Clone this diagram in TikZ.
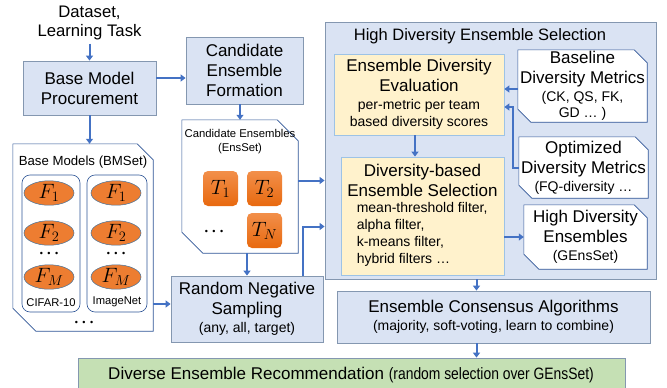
\documentclass[tikz,border=0pt]{standalone}
\usepackage{fontspec}
\setmainfont{Liberation Sans}
\newfontfamily\narrowfont{Liberation Sans}[FakeStretch=0.84]
\usetikzlibrary{arrows.meta,positioning,shapes.geometric}

\definecolor{flowblue}{HTML}{4472C4}
\definecolor{boxfill}{HTML}{DAE3F3}
\definecolor{boxline}{HTML}{8497B0}
\definecolor{yfill}{HTML}{FFF2CC}
\definecolor{yline}{HTML}{9DC3E6}
\definecolor{gfill}{HTML}{C5E0B4}
\definecolor{snipline}{HTML}{2F5597}
\definecolor{orange}{HTML}{ED7D31}
\definecolor{orangetop}{HTML}{F28F4A}
\definecolor{orangebot}{HTML}{E8690F}
\definecolor{ellline}{HTML}{41719C}

\newcommand{\mainfnt}{\fontsize{17}{20}\selectfont}
\newcommand{\subfnt}{\fontsize{14}{16.5}\selectfont}
\newcommand{\bulletdots}{\textbullet\hspace{4.5pt}\textbullet\hspace{4.5pt}\textbullet}
% white frame with two cut corners around a named node: #1 node, #2 NE cut, #3 SW cut
\newcommand{\snipframe}[3]{%
    \filldraw[draw=snipline, fill=white, line width=0.6pt]
        (#1.north west) -- ([xshift=-#2]#1.north east) -- ([yshift=-#2]#1.north east)
        -- (#1.south east) -- ([xshift=#3]#1.south west) -- ([yshift=#3]#1.south west) -- cycle;}

\begin{document}
\begin{tikzpicture}[x=1pt, y=-1pt,
    flow/.style={draw=flowblue, line width=2pt, -{Triangle[length=5pt,width=7pt]}},
    bluebox/.style={draw=boxline, fill=boxfill, line width=0.8pt, align=center,
        inner sep=0pt, font=\mainfnt},
    yelbox/.style={draw=yline, fill=yfill, line width=0.8pt, align=center,
        inner sep=0pt, font=\mainfnt},
    snipbox/.style={inner sep=0pt},
    sniptext/.style={align=center, inner sep=0pt, font=\mainfnt},
    group/.style={draw=snipline, fill=white, rounded corners=8pt, line width=0.6pt, inner sep=0pt},
    model/.style={ellipse, draw=ellline, fill=orange, line width=0.5pt,
        minimum width=50pt, minimum height=24pt, inner sep=0pt, font=\fontsize{20.74}{21}\selectfont},
    team/.style={rounded corners=5pt, top color=orangetop, bottom color=orangebot,
        minimum width=35pt, minimum height=35pt, inner sep=0pt, font=\fontsize{20.74}{21}\selectfont},
    dots/.style={font=\fontsize{9}{9}\selectfont, inner sep=0pt}
]
    \useasboundingbox (0,0) rectangle (667,388);

    % input and first stage
    \node[align=center, font=\fontsize{16.7}{19}\selectfont] (data) at (89.5,23) {Dataset,\\Learning Task};
    \node[bluebox, minimum width=133pt, minimum height=54pt] (bmp) at (89.5,88) {Base Model\\Procurement};
    \node[bluebox, minimum width=117pt, minimum height=67pt] (cef) at (244.5,70.5) {Candidate\\Ensemble\\Formation};

    % base model pool
    \node[snipbox, minimum width=140pt, minimum height=187pt] (bm) at (83,237.5) {};
    \snipframe{bm}{16pt}{23pt}
    \node[below=9pt of bm.north, font=\fontsize{13.2}{15}\selectfont] (bmlabel) {Base Models (BMSet)};
    \node[group, minimum width=58pt, minimum height=137pt] (cifar) at (51,243.5) {};
    \node[group, minimum width=60pt, minimum height=137pt] (imnet) at (117,243.5) {};
    \node[above=2pt of cifar.south, font=\fontsize{11.2}{12}\selectfont] {CIFAR-10};
    \node[above=2pt of imnet.south, font=\fontsize{11.2}{12}\selectfont] {ImageNet};
    \foreach \col/\cx in {c/49, i/116} {
        \node[model] (\col1) at (\cx,193) {$F_1$};
        \node[model] (\col2) at (\cx,233) {$F_2$};
        \node[model] (\col3) at (\cx,277) {$F_M$};
        \node[dots] at (\cx,254) {\bulletdots};
    }
    \node[dots] at (84,323) {\bulletdots};

    % candidate ensembles
    \node[snipbox, minimum width=116pt, minimum height=133pt] (ce) at (240,186.5) {};
    \snipframe{ce}{21pt}{21pt}
    \node[below=6pt of ce.north, align=center, font=\fontsize{11.3}{14}\selectfont] (celabel) {Candidate Ensembles\\(EnsSet)};
    \node[team] (t1) at (220.5,188.5) {$T_1$};
    \node[team] (t2) at (264.5,188.5) {$T_2$};
    \node[team] (tn) at (264.5,230.5) {$T_N$};
    \node[dots] at (214,232) {\bulletdots};

    \node[bluebox, minimum width=152pt, minimum height=66pt] (rns) at (247,309)
        {Random Negative\\Sampling\\[-2pt]{\subfnt (any, all, target)}};

    % high diversity ensemble selection
    \node[draw=boxline, fill=boxfill, line width=0.8pt, minimum width=331pt, minimum height=257pt] (hdes) at (490.5,150.5) {};
    \node[font=\fontsize{16.5}{20}\selectfont] (hdestitle) at (480,36) {High Diversity Ensemble Selection};
    \node[yelbox, minimum width=170pt, minimum height=81pt] (ede) at (419,94.5)
        {Ensemble Diversity\\Evaluation\\[-2pt]{\subfnt per-metric per team}\\[-3.5pt]{\subfnt based diversity scores}};
    \node[yelbox, minimum width=163pt, minimum height=118pt] (des) at (422.5,216) {};
    \node[below=4pt of des.north, align=center, font=\mainfnt] (destitle) {Diversity-based\\Ensemble Selection};
    \node[anchor=north west, align=left, inner sep=0pt, font=\fontsize{14}{16.7}\selectfont]
        (deslist) at ([xshift=16pt,yshift=-46pt]des.north west)
        {mean-threshold filter,\\alpha filter,\\k-means filter,\\hybrid filters \dots};

    \node[snipbox, minimum width=129pt, minimum height=72pt] (bdm) at (582.5,86) {};
    \snipframe{bdm}{13pt}{13pt}
    \node[sniptext] at (bdm) {Baseline\\Diversity Metrics\\[-2pt]{\subfnt (CK, QS, FK,}\\[-3.5pt]{\subfnt GD \dots\ )}};
    \node[snipbox, minimum width=129pt, minimum height=61pt] (odm) at (583.5,167.5) {};
    \snipframe{odm}{13pt}{13pt}
    \node[sniptext] at (odm) {Optimized\\Diversity Metrics\\[-2pt]{\subfnt (FQ-diversity \dots}};
    \node[snipbox, minimum width=123pt, minimum height=64pt] (hde) at (585.5,237) {};
    \snipframe{hde}{13pt}{15pt}
    \node[sniptext] at (hde) {High Diversity\\Ensembles\\[-2pt]{\subfnt (GEnsSet)}};

    % consensus and recommendation
    \node[bluebox, minimum width=313pt, minimum height=52pt] (eca) at (493.5,317)
        {Ensemble Consensus Algorithms\\[-2pt]{\subfnt (majority, soft-voting, learn to combine)}};
    \node[draw=boxline, fill=gfill, line width=0.8pt, minimum width=547pt, minimum height=40pt,
        inner sep=0pt] (der) at (351.5,378) {};
    \node[font=\mainfnt] (dertext) at (351,375)
        {Diverse Ensemble Recommendation {\narrowfont\fontsize{16.5}{20}\selectfont (random selection over GEnsSet)}};

    % connectors
    \draw[flow] (data.south) -- (bmp.north);
    \draw[flow] ([yshift=10pt]bmp.east) -- ([yshift=10pt]bmp.east -| cef.west);
    \draw[flow] (bmp.south) -- (bmp.south |- bm.north);
    \draw[flow] (cef.south -| ce.north) -- (ce.north);
    \draw[flow] (ce.south -| rns.north) -- (rns.north);
    \draw[flow] ([yshift=5pt]rns.west -| bm.east) -- ([yshift=5pt]rns.west);
    \draw[flow] ([yshift=6pt]ce.east) -- ([yshift=6pt]ce.east -| hdes.west);
    \draw[flow] ([xshift=56pt]rns.north) |- ([yshift=-40pt]ce.east -| hdes.west);
    \draw[flow] ([xshift=-4pt]ede.south) -- ([xshift=-4pt]ede.south |- des.north);
    \draw[flow] ([yshift=-3pt]bdm.west) -- ([yshift=-3pt]bdm.west -| ede.east);
    \draw[flow] (odm.west) -- ++(-6,0) |- ([yshift=-12.5pt]ede.east);
    \draw[flow] (hde.west -| des.east) -- (hde.west);
    \draw[flow] ([xshift=-14pt]hdes.south) -- ([xshift=-14pt]hdes.south |- eca.north);
    \draw[flow] ([xshift=-17pt]eca.south) -- ([xshift=-17pt]eca.south |- der.north);
\end{tikzpicture}
\end{document}
